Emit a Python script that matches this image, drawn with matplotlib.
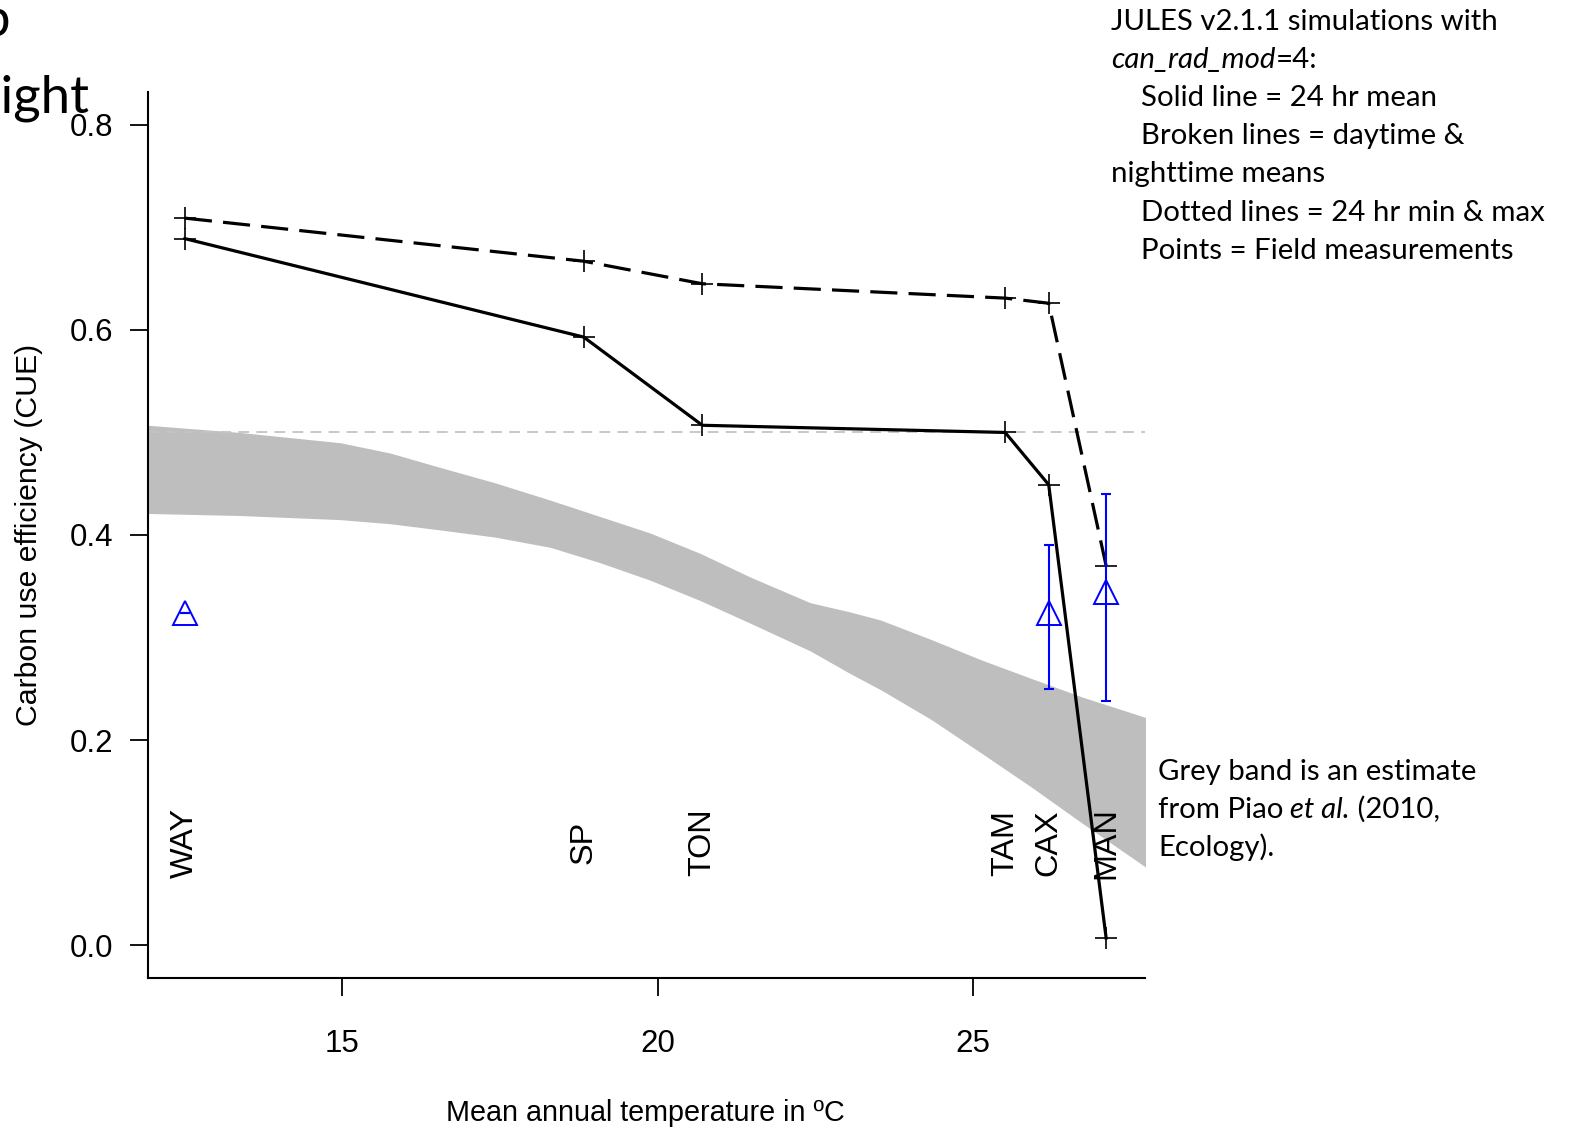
import matplotlib
matplotlib.use("Agg")
import matplotlib.pyplot as plt

# ---------------- data ----------------
sites = ["WAY", "SP", "TON", "TAM", "CAX", "MAN"]
temp = [12.51, 18.83, 20.71, 25.51, 26.20, 27.11]
cue_24h_mean = [0.689, 0.593, 0.507, 0.500, 0.449, 0.007]
cue_day_mean = [0.709, 0.667, 0.645, 0.631, 0.626, 0.370]

field_temp = [12.51, 26.20, 27.11]
field_cue = [0.324, 0.324, 0.344]
field_lo = [0.324, 0.250, 0.238]
field_hi = [0.324, 0.390, 0.440]

band_x = [11.93, 13.38, 14.97, 15.76, 16.55, 17.42, 18.30, 19.09, 19.88, 20.68,
          21.47, 22.42, 23.05, 23.54, 24.34, 25.14, 25.93, 26.73, 27.74]
band_hi = [0.507, 0.500, 0.490, 0.480, 0.466, 0.451, 0.434, 0.418, 0.402, 0.382,
           0.359, 0.334, 0.325, 0.317, 0.298, 0.278, 0.260, 0.242, 0.222]
band_lo = [0.421, 0.419, 0.415, 0.411, 0.405, 0.398, 0.388, 0.373, 0.356, 0.336,
           0.314, 0.287, 0.265, 0.249, 0.220, 0.187, 0.154, 0.119, 0.076]

xticks = [15, 20, 25]
yticks = [0.0, 0.2, 0.4, 0.6, 0.8]
ytick_labels = ["0.0", "0.2", "0.4", "0.6", "0.8"]

# ---------------- figure ----------------
W, H = 1569, 1128
fig = plt.figure(figsize=(W / 100, H / 100), dpi=100)
L, R, T, B = 148, 1145, 92, 978
ax = fig.add_axes([L / W, 1 - B / H, (R - L) / W, (B - T) / H])
ax.set_xlim(11.925, 27.726)
ax.set_ylim(-0.032, 0.832)

SANS = "Liberation Sans"
CAL = "Lato"

ax.fill_between(band_x, band_lo, band_hi, color="#bebebe", lw=0, zorder=1)
ax.axhline(0.5, color="#c4c4c4", lw=1.3, dashes=(6, 4), zorder=2)

ax.plot(temp, cue_day_mean, color="black", lw=2.3, dashes=(8.5, 3.5),
        dash_capstyle="butt", marker="+", ms=16, mew=1.2, zorder=4)
ax.plot(temp, cue_24h_mean, color="black", lw=2.3, marker="+", ms=16, mew=1.2,
        zorder=4)

yerr = [[c - l for c, l in zip(field_cue, field_lo)],
        [h - c for c, h in zip(field_cue, field_hi)]]
ax.errorbar(field_temp, field_cue, yerr=yerr, fmt="none", ecolor="#0000ff",
            elinewidth=1.5, capsize=3.5, capthick=1.5, zorder=5)
ax.plot(field_temp, field_cue, linestyle="none", marker="^", ms=17,
        mfc="none", mec="#0000ff", mew=1.4, zorder=6)

for s, t in zip(sites, temp):
    ax.text(t, 0.10, s, rotation=90, ha="center", va="center",
            fontsize=23.3, family=SANS, zorder=7)

for side in ["top", "right"]:
    ax.spines[side].set_visible(False)
for side in ["left", "bottom"]:
    ax.spines[side].set_linewidth(1.5)

ax.set_xticks(xticks)
ax.set_xticklabels([str(v) for v in xticks])
ax.set_yticks(yticks)
ax.set_yticklabels(ytick_labels)
ax.tick_params(axis="both", direction="out", length=13, width=1.3,
               labelsize=22.5)
ax.tick_params(axis="x", pad=23.5)
ax.tick_params(axis="y", pad=12)
for lab in ax.get_xticklabels() + ax.get_yticklabels():
    lab.set_family(SANS)

ax.set_xlabel("Mean annual temperature in ºC", fontsize=20.7, family=SANS)
ax.xaxis.set_label_coords(0.4985, -0.1525)
ax.xaxis.label.set_va("center")
ax.set_ylabel("Carbon use efficiency (CUE)", fontsize=21.8, family=SANS,
              rotation=90, va="center", ha="center", rotation_mode="anchor")
ax.yaxis.set_label_coords(-(L - 29) / (R - L), 0.5)

# ---------------- annotation text ----------------
renderer = fig.canvas.get_renderer()
TS = 21.2


def rich_line(x_px, base_px, pieces, size=TS):
    x = x_px
    for txt, style in pieces:
        t = fig.text(x / W, 1 - base_px / H, txt, ha="left", va="baseline",
                     fontsize=size, family=CAL, style=style)
        bb = t.get_window_extent(renderer)
        x += bb.width


lines = [
    (1111, 30, [("JULES v2.1.1 simulations with", "normal")]),
    (1111, 68, [("can_rad_mod", "italic"), ("=4:", "normal")]),
    (1141, 106, [("Solid line = 24 hr mean", "normal")]),
    (1141, 144, [("Broken lines = daytime &", "normal")]),
    (1111, 182, [("nighttime means", "normal")]),
    (1141, 221, [("Dotted lines = 24 hr min & max", "normal")]),
    (1141, 259, [("Points = Field measurements", "normal")]),
    (1158, 780, [("Grey band is an estimate", "normal")]),
    (1158, 818, [("from Piao", "normal"), (" et al.", "italic"),
                 (" (2010,", "normal")]),
    (1158, 856, [("Ecology).", "normal")]),
]
for x0, b0, pcs in lines:
    rich_line(x0, b0, pcs)

# cut-off fragments at the top-left edge of the slide
fig.text(10 / W, 1 - 36 / H, "b", ha="right", va="baseline", fontsize=38,
         family=CAL)
fig.text(89 / W, 1 - 113 / H, "night", ha="right", va="baseline", fontsize=38,
         family=CAL)

fig.savefig("out.png", dpi=100)
